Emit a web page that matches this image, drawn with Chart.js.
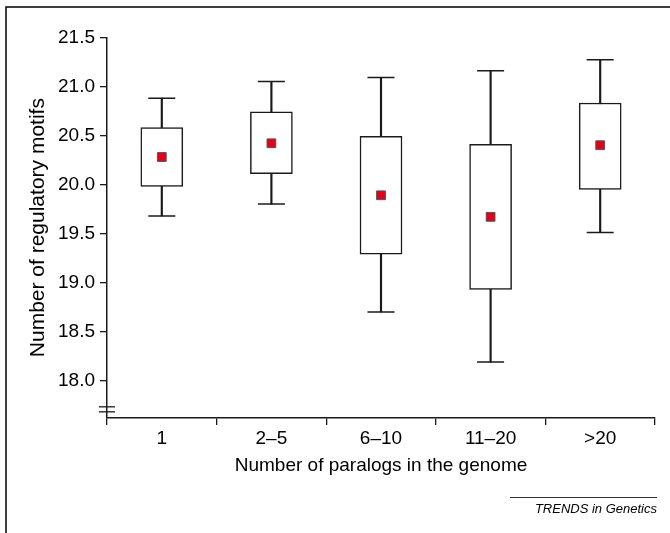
<!DOCTYPE html>
<html><head><meta charset="utf-8">
<script src="https://cdn.jsdelivr.net/npm/chart.js@4"></script>
<style>html,body{margin:0;padding:0;background:#fff}#wrap{width:670px;height:533px;position:relative}</style>
</head><body><div id="wrap"><canvas id="c" width="670" height="533"></canvas></div>
<script>
const categories = ['1', '2\u20135', '6\u201310', '11\u201320', '>20'];
const whiskerLow  = [19.68, 19.80, 18.70, 18.19, 19.51];
const boxLow      = [19.98, 20.11, 19.29, 18.93, 19.95];
const means       = [20.28, 20.42, 19.89, 19.67, 20.40];
const boxHigh     = [20.58, 20.74, 20.49, 20.41, 20.83];
const whiskerHigh = [20.88, 21.05, 21.09, 21.16, 21.27];
const yTicks = [18.0, 18.5, 19.0, 19.5, 20.0, 20.5, 21.0, 21.5];
const yMin = 17.62, yMax = 21.5;
const breakValues = [17.734, 17.683];
const xTitle = 'Number of paralogs in the genome';
const yTitle = 'Number of regulatory motifs';
const sourceText = 'TRENDS in Genetics';

const FONT = '"Liberation Sans", Arial, Helvetica, sans-serif';
Chart.defaults.font.family = FONT;
const INK = '#1a1a1a';

const decor = {
  id: 'decor',
  beforeDraw(chart) {
    const ctx = chart.ctx;
    ctx.save(); ctx.fillStyle = '#fff'; ctx.fillRect(0, 0, chart.width, chart.height); ctx.restore();
  },
  afterDraw(chart) {
    const ctx = chart.ctx;
    const ys = chart.scales.y;
    ctx.save();
    ctx.strokeStyle = '#000'; ctx.lineWidth = 1.5;
    ctx.beginPath(); ctx.moveTo(6, chart.height); ctx.lineTo(6, 7); ctx.lineTo(chart.width, 7); ctx.stroke();
    // axis break marks
    ctx.strokeStyle = INK; ctx.lineWidth = 1.3;
    const ax = ys.right;
    breakValues.forEach(v => {
      const py = ys.getPixelForValue(v);
      ctx.beginPath(); ctx.moveTo(ax - 8, py); ctx.lineTo(ax + 8, py); ctx.stroke();
    });
    // source label
    ctx.strokeStyle = '#333'; ctx.lineWidth = 1;
    ctx.beginPath(); ctx.moveTo(510, 497.5); ctx.lineTo(657, 497.5); ctx.stroke();
    ctx.fillStyle = '#000';
    ctx.font = 'italic 13px ' + FONT;
    ctx.textAlign = 'right'; ctx.textBaseline = 'alphabetic';
    ctx.fillText(sourceText, 657, 513);
    ctx.restore();
  }
};

new Chart(document.getElementById('c'), {
  type: 'bar',
  data: {
    labels: categories,
    datasets: [
      { label: 'whisker', data: categories.map((c, i) => [whiskerLow[i], whiskerHigh[i]]),
        backgroundColor: INK, borderWidth: 0, barThickness: 1.5, grouped: false, order: 3 },
      { label: 'box', data: categories.map((c, i) => [boxLow[i], boxHigh[i]]),
        backgroundColor: '#fff', borderColor: INK, borderWidth: 1.5, borderSkipped: false,
        barThickness: 42, grouped: false, order: 2 },
      { type: 'line', label: 'capHigh', data: whiskerHigh, showLine: false, pointStyle: 'line',
        pointRadius: 13.5, borderColor: INK, pointBorderWidth: 1.5, order: 1 },
      { type: 'line', label: 'capLow', data: whiskerLow, showLine: false, pointStyle: 'line',
        pointRadius: 13.5, borderColor: INK, pointBorderWidth: 1.5, order: 1 },
      { type: 'line', label: 'mean', data: means, showLine: false, pointStyle: 'rect',
        pointRadius: 6.2, backgroundColor: '#e2001a', borderColor: '#555', pointBorderWidth: 1, order: 0 }
    ]
  },
  options: {
    responsive: false, animation: false, events: [],
    layout: { padding: { left: 21.6, right: 10, top: 37.3, bottom: 51.6 } },
    plugins: { legend: { display: false }, tooltip: { enabled: false } },
    scales: {
      x: {
        offset: true,
        afterFit: s => { s.height = 63.4; },
        grid: { offset: true, drawOnChartArea: false, tickLength: 7, color: INK, lineWidth: 1.3 },
        border: { color: INK, width: 1.5 },
        ticks: { font: { size: 19 }, color: '#000', padding: 2 },
        title: { display: true, text: xTitle, font: { size: 19 }, color: '#000', padding: { top: 4, bottom: 4 } }
      },
      y: {
        min: yMin, max: yMax,
        afterFit: s => { s.width = 85.4; },
        afterBuildTicks: s => { s.ticks = yTicks.map(v => ({ value: v })); },
        grid: { drawOnChartArea: false, tickLength: 7, color: INK, lineWidth: 1.3 },
        border: { color: INK, width: 1.5 },
        ticks: { font: { size: 19 }, color: '#000', padding: 5, callback: v => Number(v).toFixed(1) },
        title: { display: true, text: yTitle, font: { size: 21 }, color: '#000', padding: { top: 4, bottom: 4 } }
      }
    }
  },
  plugins: [decor]
});
</script></body></html>
